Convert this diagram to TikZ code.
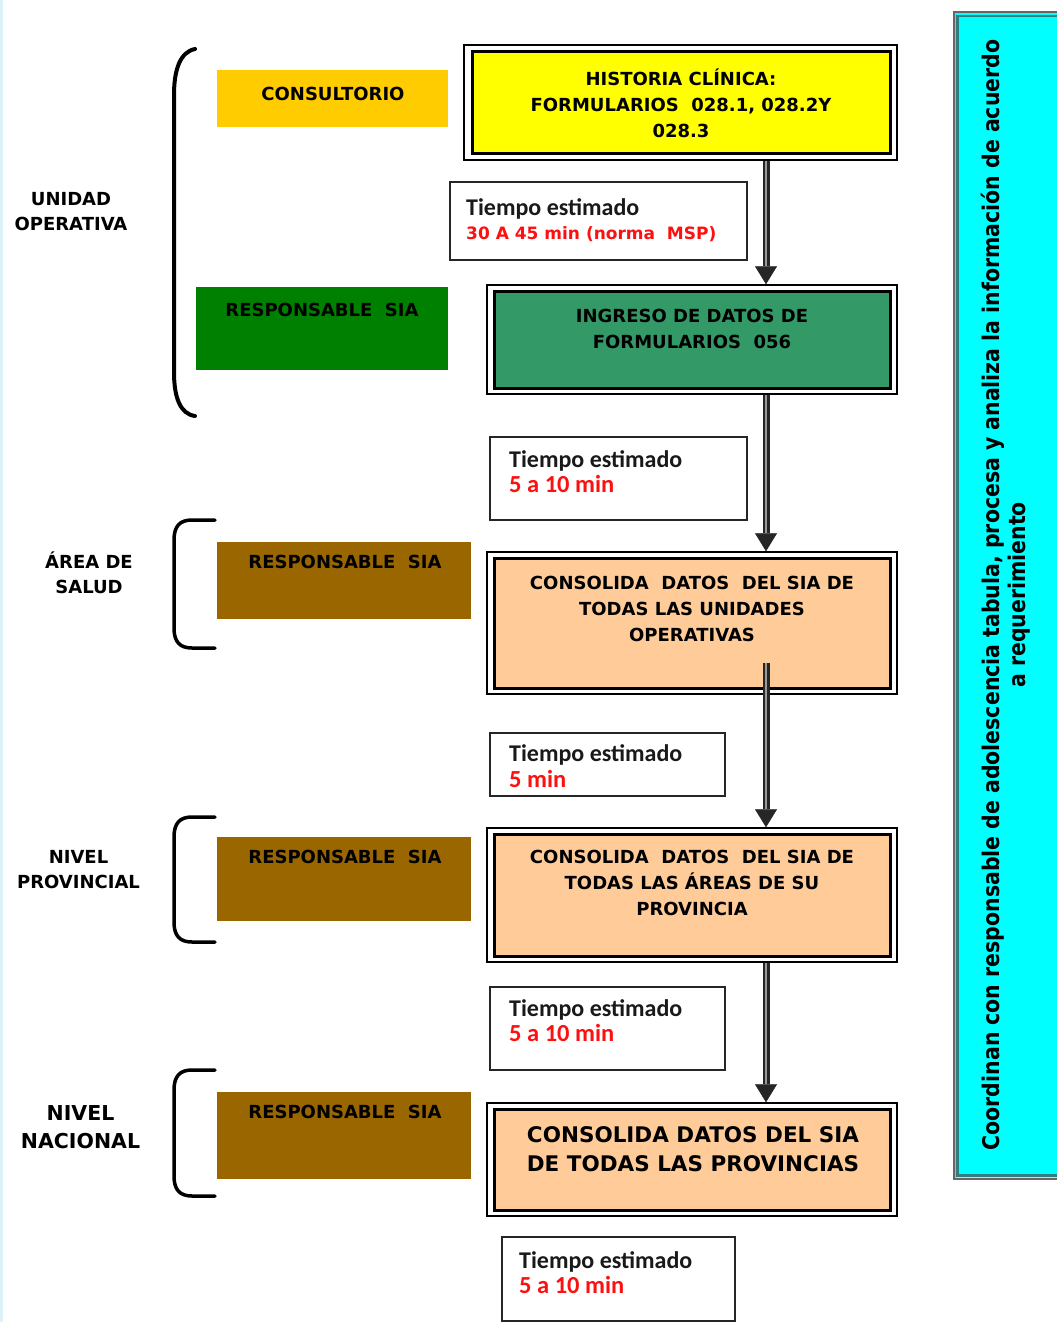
\documentclass[tikz,border=0pt]{standalone}
\usepackage{fontspec}
\setmainfont{DejaVu Sans}
\newfontfamily\cfont{Carlito}
\newfontfamily\nfont[FakeStretch=0.89]{DejaVu Sans}
\usetikzlibrary{arrows.meta}
\definecolor{goldb}{HTML}{FFCC00}
\definecolor{sgreen}{HTML}{008000}
\definecolor{brownb}{HTML}{996600}
\definecolor{yelb}{HTML}{FFFF00}
\definecolor{seag}{HTML}{339966}
\definecolor{peach}{HTML}{FFCC99}
\definecolor{cyanb}{HTML}{00FFFF}
\definecolor{tealb}{HTML}{2E7F7F}
\definecolor{redt}{HTML}{FF1010}
\definecolor{edgeb}{HTML}{DDF2F8}
\definecolor{shaftg}{HTML}{9A9A9A}
\begin{document}
\begin{tikzpicture}[x=1pt,y=-1pt,
  lbl/.style={font=\bfseries\fontsize{18}{25}\selectfont, align=center, inner sep=0pt},
  lblbig/.style={font=\bfseries\fontsize{20.5}{28}\selectfont, align=center, inner sep=0pt},
  boxtxt/.style={font=\bfseries\fontsize{18}{26}\selectfont, align=center, inner sep=0pt},
  boxtxtbig/.style={font=\bfseries\fontsize{21.5}{29}\selectfont, align=center, inner sep=0pt},
  colbox/.style={draw=none, inner sep=0pt},
  outerbox/.style={draw=black, line width=1.5pt, fill=white, inner sep=0pt},
  innerbox/.style={draw=black, line width=3pt, inner sep=0pt},
  tbox/.style={draw=black!85, line width=1.5pt, fill=white, inner sep=0pt},
  ttxt/.style={font=\cfont\bfseries\fontsize{24}{26}\selectfont, text=black!90, anchor=base west, inner sep=0pt},
  tred/.style={font=\cfont\bfseries\fontsize{24.5}{26}\selectfont, text=redt, anchor=base west, inner sep=0pt},
  tredv/.style={font=\bfseries\fontsize{17}{20}\selectfont, text=redt, anchor=base west, inner sep=0pt},
  bracestyle/.style={line width=3.5pt, line cap=round, draw=black},
  shaft/.style={draw=black!85, line width=7pt, -{Triangle[width=22pt,length=18pt,line width=0.4pt]}},
  shaftin/.style={draw=shaftg, line width=2.5pt, shorten >=18pt},
]
\useasboundingbox (0,0) rectangle (1057,1322);
\fill[white] (0,0) rectangle (1057,1322);
\fill[edgeb] (0,0) rectangle (3,1322);

% ---------- right bar ----------
\fill[cyanb] (953,12) rectangle (1060,1179);
\draw[tealb, line width=2.5pt] (1060,16) -- (957.5,16) -- (957.5,1175.5) -- (1060,1175.5);
\draw[black!60, line width=2pt] (1060,12.5) -- (953.5,12.5) -- (953.5,1179) -- (1060,1179);
\draw[white!85!black, line width=1pt] (956,1177.5) -- (1060,1177.5);
\node[font=\nfont\bfseries\fontsize{23}{26}\selectfont, align=center, rotate=90, inner sep=0pt] (bartxt) at (1006,595)
  {Coordinan con responsable de adolescencia tabula, procesa y analiza la información de acuerdo\\a requerimiento};

% ---------- left labels ----------
\node[lbl] (luo) at (71,212) {UNIDAD\\OPERATIVA};
\node[lbl] (lar) at (89,573) {ÁREA DE\\SALUD};
\node[lbl] (lpr) at (78.5,869.5) {NIVEL\\PROVINCIAL};
\node[lblbig] (lna) at (80.5,1127) {NIVEL\\NACIONAL};

% ---------- braces ----------
\draw[bracestyle, line width=4pt] (195,49) .. controls (180,52) and (174,70) .. (174,95) -- (174,372) .. controls (174,397) and (180,414) .. (195,416);
\draw[bracestyle] (215,520) -- (192,520) .. controls (180,520) and (174,526) .. (174,540) -- (174,628) .. controls (174,642) and (180,648) .. (192,648) -- (215,648);
\draw[bracestyle] (215,817) -- (192,817) .. controls (180,817) and (174,823) .. (174,837) -- (174,922) .. controls (174,936) and (180,942) .. (192,942) -- (215,942);
\draw[bracestyle] (215,1070) -- (192,1070) .. controls (180,1070) and (174,1076) .. (174,1090) -- (174,1176) .. controls (174,1190) and (180,1196) .. (192,1196) -- (215,1196);

% ---------- left coloured boxes ----------
\node[colbox, fill=goldb, minimum width=231pt, minimum height=57pt] (bcons) at (332.5,98.5) {};
\node[lbl] (tcons) at (333,93.5) {CONSULTORIO};
\node[colbox, fill=sgreen, minimum width=252pt, minimum height=83pt] (bgreen) at (322,328.5) {};
\node[lbl] (tgreen) at (322,310) {RESPONSABLE\ \ SIA};
\node[colbox, fill=brownb, minimum width=254pt, minimum height=77pt] (bar) at (344,580.5) {};
\node[lbl] (tar) at (345,562) {RESPONSABLE\ \ SIA};
\node[colbox, fill=brownb, minimum width=254pt, minimum height=84pt] (bpr) at (344,879) {};
\node[lbl] (tpr) at (345,857) {RESPONSABLE\ \ SIA};
\node[colbox, fill=brownb, minimum width=254pt, minimum height=87pt] (bna) at (344,1135.5) {};
\node[lbl] (tna) at (345,1112) {RESPONSABLE\ \ SIA};

% ---------- main boxes ----------
\node[outerbox, minimum width=433pt, minimum height=115pt] (h1o) at (680.5,102.5) {};
\node[innerbox, fill=yelb, minimum width=418pt, minimum height=101pt] (h1) at (681,102.5) {};
\node[boxtxt] (h1t) at (681,103) {HISTORIA CLÍNICA:\\FORMULARIOS\ \ 028.1, 028.2Y\\028.3};

\node[outerbox, minimum width=410pt, minimum height=109pt] (h2o) at (692,339.5) {};
\node[innerbox, fill=seag, minimum width=396pt, minimum height=97pt] (h2) at (692,339.5) {};
\node[boxtxt] (h2t) at (692,328.5) {INGRESO DE DATOS DE\\FORMULARIOS\ \ 056};

\node[outerbox, minimum width=410pt, minimum height=142pt] (h3o) at (692,623) {};
\node[innerbox, fill=peach, minimum width=396pt, minimum height=130pt] (h3) at (692,623) {};
\node[boxtxt] (h3t) at (692,609) {CONSOLIDA\ \ DATOS\ \ DEL SIA DE\\TODAS LAS UNIDADES\\OPERATIVAS};

\node[outerbox, minimum width=410pt, minimum height=134pt] (h4o) at (692,895) {};
\node[innerbox, fill=peach, minimum width=396pt, minimum height=122pt] (h4) at (692,895) {};
\node[boxtxt] (h4t) at (692,883) {CONSOLIDA\ \ DATOS\ \ DEL SIA DE\\TODAS LAS ÁREAS DE SU\\PROVINCIA};

\node[outerbox, minimum width=410pt, minimum height=113pt] (h5o) at (692,1159.5) {};
\node[innerbox, fill=peach, minimum width=396pt, minimum height=101pt] (h5) at (692,1159.5) {};
\node[boxtxtbig] (h5t) at (693,1149.5) {CONSOLIDA DATOS DEL SIA\\DE TODAS LAS PROVINCIAS};

% ---------- time boxes ----------
\node[tbox, minimum width=297pt, minimum height=78pt] (t1) at (598.5,221) {};
\node[ttxt] (t1a) at (466,215) {Tiempo estimado};
\node[tredv] (t1b) at (466,239) {30 A 45 min (norma\ \ MSP)};

\node[tbox, minimum width=257pt, minimum height=83pt] (t2) at (618.5,478.5) {};
\node[ttxt] (t2a) at (509,467) {Tiempo estimado};
\node[tred] (t2b) at (509,492) {5 a 10 min};

\node[tbox, minimum width=235pt, minimum height=63pt] (t3) at (607.5,764.5) {};
\node[ttxt] (t3a) at (509,761) {Tiempo estimado};
\node[tred] (t3b) at (509,787) {5 min};

\node[tbox, minimum width=235pt, minimum height=83pt] (t4) at (607.5,1028.5) {};
\node[ttxt] (t4a) at (509,1016) {Tiempo estimado};
\node[tred] (t4b) at (509,1041) {5 a 10 min};

\node[tbox, minimum width=233pt, minimum height=84pt] (t5) at (618.5,1279) {};
\node[ttxt] (t5a) at (519,1268) {Tiempo estimado};
\node[tred] (t5b) at (519,1293) {5 a 10 min};

% ---------- arrows ----------
\coordinate (ax) at (766,0);
\coordinate (s3) at (766,663);
\draw[shaft] (h1o.south -| ax) -- (h2o.north -| ax);
\draw[shaftin] (h1o.south -| ax) -- (h2o.north -| ax);
\draw[shaft] (h2o.south -| ax) -- (h3o.north -| ax);
\draw[shaftin] (h2o.south -| ax) -- (h3o.north -| ax);
\draw[shaft] (s3) -- (h4o.north -| ax);
\draw[shaftin] (s3) -- (h4o.north -| ax);
\draw[shaft] (h4o.south -| ax) -- (h5o.north -| ax);
\draw[shaftin] (h4o.south -| ax) -- (h5o.north -| ax);
\end{tikzpicture}
\end{document}
